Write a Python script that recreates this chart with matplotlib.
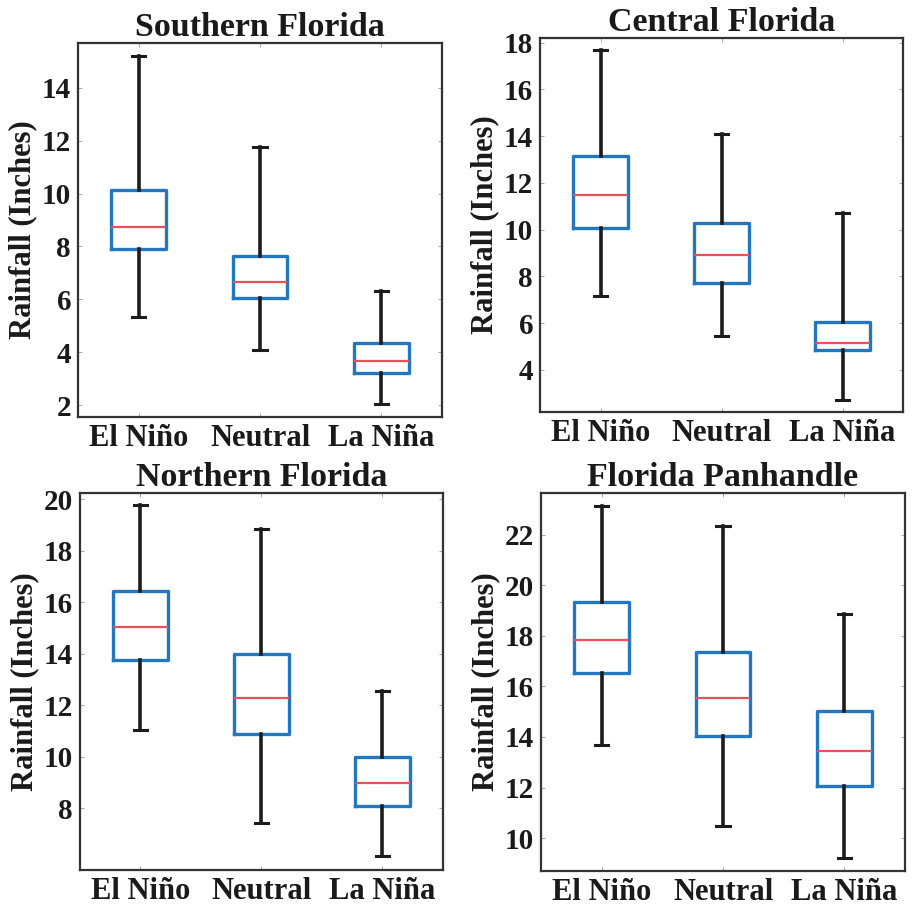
import matplotlib
matplotlib.use("Agg")
import matplotlib.pyplot as plt

categories = ["El Niño", "Neutral", "La Niña"]
regions = ["Southern Florida", "Central Florida", "Northern Florida", "Florida Panhandle"]

# per region: [whisker low, q1, median, q3, whisker high] for El Niño, Neutral, La Niña
southern = [[5.35, 7.9, 8.75, 10.15, 15.2],
            [4.1, 6.05, 6.65, 7.65, 11.75],
            [2.05, 3.2, 3.65, 4.35, 6.3]]
central = [[7.17, 10.07, 11.5, 13.17, 17.7],
           [5.43, 7.71, 8.9, 10.3, 14.1],
           [2.71, 4.83, 5.17, 6.07, 10.7]]
northern = [[11.05, 13.75, 15.03, 16.46, 19.78],
            [7.42, 10.88, 12.3, 13.99, 18.87],
            [6.15, 8.1, 9.0, 10.01, 12.54]]
panhandle = [[13.69, 16.53, 17.85, 19.34, 23.13],
             [10.46, 14.02, 15.54, 17.36, 22.36],
             [9.21, 12.08, 13.46, 15.01, 18.88]]
data = [southern, central, northern, panhandle]

ylims = [(1.55, 15.7), (2.2, 18.2), (5.6, 20.25), (8.7, 23.65)]
yticks = [[2, 4, 6, 8, 10, 12, 14],
          [4, 6, 8, 10, 12, 14, 16, 18],
          [8, 10, 12, 14, 16, 18, 20],
          [10, 12, 14, 16, 18, 20, 22]]

rects = [[0.0851, 0.5423, 0.3970, 0.4105],
         [0.5889, 0.5478, 0.3959, 0.4105],
         [0.0872, 0.0450, 0.3959, 0.4138],
         [0.5900, 0.0439, 0.3970, 0.4150]]

serif = ["Liberation Serif", "DejaVu Serif"]
box_blue = "#2277c0"
med_red = "#e8505a"
txt = "#1a1a1a"

fig = plt.figure(figsize=(9.17, 9.11), dpi=100)
for region, stats_vals, ylim, yt, rect in zip(regions, data, ylims, yticks, rects):
    ax = fig.add_axes(rect)
    stats = []
    for cat, (lo, q1, med, q3, hi) in zip(categories, stats_vals):
        stats.append(dict(label=cat, whislo=lo, q1=q1, med=med, q3=q3, whishi=hi, fliers=[]))
    ax.bxp(stats, positions=[1, 2, 3], widths=0.45, capwidths=0.11, showfliers=False,
           boxprops=dict(color=box_blue, linewidth=2.4),
           medianprops=dict(color=med_red, linewidth=1.6),
           whiskerprops=dict(color="#1c1c1c", linewidth=2.6),
           capprops=dict(color="#1c1c1c", linewidth=2.2))
    ax.set_xlim(0.5, 3.5)
    ax.set_ylim(*ylim)
    ax.set_yticks(yt)
    ax.set_xticks([1, 2, 3])
    ax.set_xticklabels(categories)
    ax.tick_params(direction="in", length=3, width=0.6, color="#999999",
                   top=True, right=True, labelcolor=txt)
    ax.tick_params(axis="x", labelsize=22, pad=5)
    ax.tick_params(axis="y", labelsize=21, pad=5)
    for lab in ax.get_xticklabels() + ax.get_yticklabels():
        lab.set_family(serif)
        lab.set_fontweight("bold")
    for sp in ax.spines.values():
        sp.set_linewidth(1.6)
        sp.set_color("#333333")
    ax.set_title(region, family=serif, fontweight="bold", fontsize=24.5, color=txt, pad=5)
    ax.set_ylabel("Rainfall (Inches)", family=serif, fontweight="bold", fontsize=22,
                  color=txt, labelpad=3)

fig.savefig("out.png", dpi=100)
